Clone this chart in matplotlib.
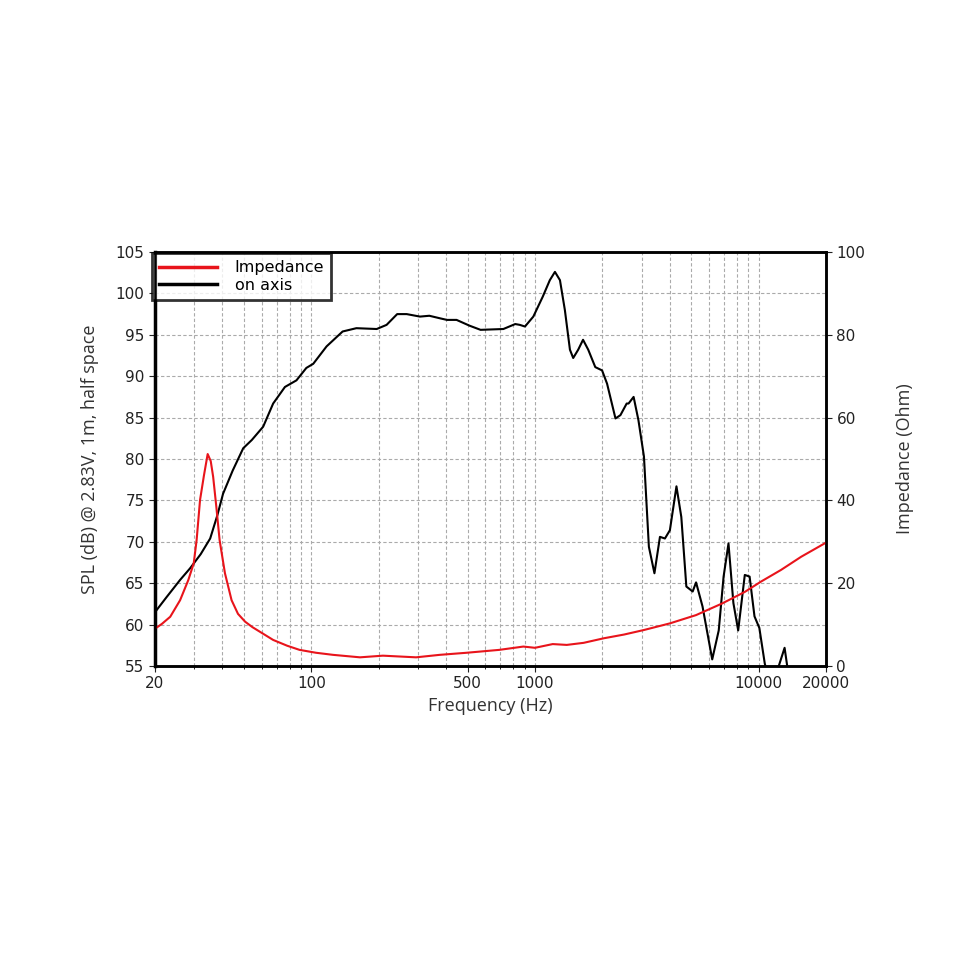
import matplotlib
matplotlib.use('Agg')
import matplotlib.pyplot as plt
from matplotlib.ticker import FixedLocator, NullFormatter, LogLocator

# on-axis SPL (dB)
spl_freq = [20, 22.5, 25.9, 28.7, 32, 35.3, 38, 40.3, 44.5, 49.6, 54.2, 60.9, 67.5, 76.2, 85.8,
            95, 102, 117, 138, 159, 196, 217, 242, 267, 306, 337, 375, 404, 446, 510, 571,
            722, 816, 855, 902, 983, 1083, 1165, 1228, 1293, 1360, 1433, 1482, 1560, 1640,
            1730, 1860, 1995, 2100, 2290, 2410, 2570, 2620, 2760, 2900, 3070, 3230, 3420,
            3620, 3810, 4010, 4290, 4510, 4750, 5070, 5250, 5610, 6200, 6630, 6970, 7330,
            7710, 8100, 8670, 9110, 9580, 10070, 10650, 11400, 12300, 13060, 13500, 14500]
spl_db = [61.5, 63.3, 65.4, 66.8, 68.5, 70.4, 73.2, 75.8, 78.6, 81.3, 82.3, 83.9, 86.7, 88.7, 89.5,
          91.0, 91.5, 93.6, 95.4, 95.8, 95.7, 96.2, 97.5, 97.5, 97.2, 97.3, 97.0, 96.8, 96.8, 96.1, 95.6,
          95.7, 96.3, 96.2, 96.0, 97.2, 99.6, 101.6, 102.6, 101.6, 98.0, 93.2, 92.2, 93.2, 94.4,
          93.2, 91.1, 90.7, 89.1, 84.9, 85.3, 86.7, 86.7, 87.5, 84.7, 80.3, 69.4, 66.2,
          70.6, 70.4, 71.4, 76.7, 73.0, 64.6, 64.0, 65.1, 62.2, 55.8, 59.3, 65.8, 69.8,
          62.6, 59.3, 66.0, 65.8, 61.0, 59.6, 55.3, 52.0, 55.0, 57.2, 54.5, 50.0]

# impedance (Ohm)
imp_freq = [20, 21.5, 23.4, 25.9, 28.2, 29.8, 30.7, 31.8, 33.1, 34.4, 35.5, 36.4, 37.6, 38.9,
            41.1, 44, 47, 50.6, 54.5, 58.8, 67.5, 78, 88.6, 105, 125, 165, 209, 294, 375, 494,
            692, 887, 1000, 1200, 1387, 1650, 2030, 2500, 3070, 4010, 5250, 6860, 8670, 10250,
            12580, 15500, 20000]
imp_ohm = [9.0, 10.2, 11.9, 15.9, 20.8, 24.8, 30.4, 40.1, 46.0, 51.2, 49.5, 45.7, 38.5, 30.4,
           22.4, 15.9, 12.6, 10.7, 9.4, 8.3, 6.3, 4.9, 3.9, 3.2, 2.7, 2.1, 2.5, 2.1, 2.7, 3.2,
           3.9, 4.7, 4.4, 5.3, 5.1, 5.6, 6.7, 7.6, 8.7, 10.3, 12.3, 15.1, 17.9, 20.4,
           23.2, 26.4, 29.8]

xticks = [20, 100, 500, 1000, 10000, 20000]

fig = plt.figure(figsize=(9.76, 9.76), dpi=100)
ax = fig.add_axes([0.1588, 0.3176, 0.6875, 0.4242])
ax2 = ax.twinx()

ax.set_xscale('log')
ax.set_xlim(20, 20000)
ax.set_ylim(55, 105)
ax2.set_ylim(0, 100)

line_spl, = ax.plot(spl_freq, spl_db, color='black', lw=1.5, solid_joinstyle='round')
line_imp, = ax2.plot(imp_freq, imp_ohm, color='#e8141b', lw=1.5, solid_joinstyle='round')

ax.xaxis.set_major_locator(FixedLocator(xticks))
ax.set_xticklabels([str(t) for t in xticks])
ax.xaxis.set_minor_locator(LogLocator(base=10, subs=range(2, 10)))
ax.xaxis.set_minor_formatter(NullFormatter())
ax.set_yticks(range(55, 106, 5))
ax2.set_yticks(range(0, 101, 20))

ax.grid(True, which='both', axis='x', color='#aaaaaa', ls=(0, (3, 2)), lw=0.8)
ax.grid(True, which='major', axis='y', color='#aaaaaa', ls=(0, (3, 2)), lw=0.8)

for a in (ax, ax2):
    a.tick_params(labelsize=11, colors='#222222', length=4)
    for s in a.spines.values():
        s.set_linewidth(1.8)
ax.spines['left'].set_linewidth(2.5)

ax.set_xlabel('Frequency (Hz)', fontsize=13, family='Open Sans', color='#333333')
ax.set_ylabel('SPL (dB) @ 2.83V, 1m, half space', fontsize=13, family='Open Sans',
              color='#333333', labelpad=12)
ax2.set_ylabel('Impedance (Ohm)', fontsize=13, family='Open Sans', color='#333333',
               labelpad=22)

leg = ax.legend([line_imp, line_spl], ['Impedance', 'on axis'], loc='upper left',
                bbox_to_anchor=(-0.004, 0.997), fontsize=11.5, frameon=True, fancybox=False,
                handlelength=3.6, borderaxespad=0.0, borderpad=0.45, labelspacing=0.15,
                handletextpad=1.1)
for h in leg.get_lines():
    h.set_linewidth(2.5)
leg.get_frame().set_edgecolor('black')
leg.get_frame().set_linewidth(2)
leg.set_zorder(10)

fig.savefig('out.png', dpi=100)
